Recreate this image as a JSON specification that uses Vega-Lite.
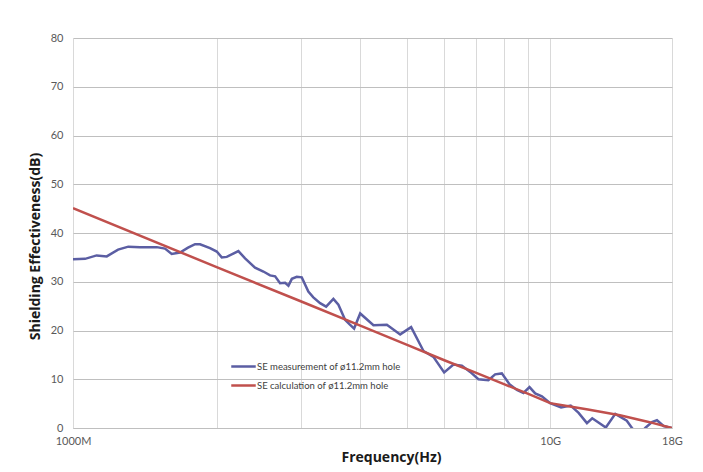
{
  "$schema": "https://vega.github.io/schema/vega-lite/v6.json",
  "width": 599,
  "height": 390,
  "autosize": {"type": "none"},
  "padding": {"left": 73, "top": 38, "right": 31, "bottom": 44},
  "background": "white",
  "config": {"view": {"stroke": null}, "font": "Lato"},
  "data": {
    "values": [
      {"f": 1.000, "se": 34.6, "series": "SE measurement of  ø11.2mm hole"},
      {"f": 1.060, "se": 34.7, "series": "SE measurement of  ø11.2mm hole"},
      {"f": 1.121, "se": 35.4, "series": "SE measurement of  ø11.2mm hole"},
      {"f": 1.177, "se": 35.2, "series": "SE measurement of  ø11.2mm hole"},
      {"f": 1.243, "se": 36.6, "series": "SE measurement of  ø11.2mm hole"},
      {"f": 1.306, "se": 37.2, "series": "SE measurement of  ø11.2mm hole"},
      {"f": 1.382, "se": 37.1, "series": "SE measurement of  ø11.2mm hole"},
      {"f": 1.498, "se": 37.1, "series": "SE measurement of  ø11.2mm hole"},
      {"f": 1.559, "se": 36.8, "series": "SE measurement of  ø11.2mm hole"},
      {"f": 1.610, "se": 35.7, "series": "SE measurement of  ø11.2mm hole"},
      {"f": 1.676, "se": 36.0, "series": "SE measurement of  ø11.2mm hole"},
      {"f": 1.742, "se": 37.0, "series": "SE measurement of  ø11.2mm hole"},
      {"f": 1.802, "se": 37.7, "series": "SE measurement of  ø11.2mm hole"},
      {"f": 1.846, "se": 37.7, "series": "SE measurement of  ø11.2mm hole"},
      {"f": 1.937, "se": 36.9, "series": "SE measurement of  ø11.2mm hole"},
      {"f": 2.001, "se": 36.2, "series": "SE measurement of  ø11.2mm hole"},
      {"f": 2.050, "se": 35.0, "series": "SE measurement of  ø11.2mm hole"},
      {"f": 2.100, "se": 35.1, "series": "SE measurement of  ø11.2mm hole"},
      {"f": 2.221, "se": 36.3, "series": "SE measurement of  ø11.2mm hole"},
      {"f": 2.294, "se": 34.8, "series": "SE measurement of  ø11.2mm hole"},
      {"f": 2.407, "se": 32.9, "series": "SE measurement of  ø11.2mm hole"},
      {"f": 2.506, "se": 32.1, "series": "SE measurement of  ø11.2mm hole"},
      {"f": 2.588, "se": 31.3, "series": "SE measurement of  ø11.2mm hole"},
      {"f": 2.652, "se": 31.1, "series": "SE measurement of  ø11.2mm hole"},
      {"f": 2.716, "se": 29.7, "series": "SE measurement of  ø11.2mm hole"},
      {"f": 2.783, "se": 29.8, "series": "SE measurement of  ø11.2mm hole"},
      {"f": 2.828, "se": 29.2, "series": "SE measurement of  ø11.2mm hole"},
      {"f": 2.875, "se": 30.6, "series": "SE measurement of  ø11.2mm hole"},
      {"f": 2.944, "se": 31.0, "series": "SE measurement of  ø11.2mm hole"},
      {"f": 3.016, "se": 30.9, "series": "SE measurement of  ø11.2mm hole"},
      {"f": 3.113, "se": 28.0, "series": "SE measurement of  ø11.2mm hole"},
      {"f": 3.189, "se": 26.8, "series": "SE measurement of  ø11.2mm hole"},
      {"f": 3.295, "se": 25.6, "series": "SE measurement of  ø11.2mm hole"},
      {"f": 3.392, "se": 24.9, "series": "SE measurement of  ø11.2mm hole"},
      {"f": 3.513, "se": 26.5, "series": "SE measurement of  ø11.2mm hole"},
      {"f": 3.599, "se": 25.3, "series": "SE measurement of  ø11.2mm hole"},
      {"f": 3.717, "se": 22.2, "series": "SE measurement of  ø11.2mm hole"},
      {"f": 3.795, "se": 21.3, "series": "SE measurement of  ø11.2mm hole"},
      {"f": 3.882, "se": 20.4, "series": "SE measurement of  ø11.2mm hole"},
      {"f": 3.998, "se": 23.5, "series": "SE measurement of  ø11.2mm hole"},
      {"f": 4.262, "se": 21.1, "series": "SE measurement of  ø11.2mm hole"},
      {"f": 4.547, "se": 21.2, "series": "SE measurement of  ø11.2mm hole"},
      {"f": 4.849, "se": 19.2, "series": "SE measurement of  ø11.2mm hole"},
      {"f": 5.112, "se": 20.7, "series": "SE measurement of  ø11.2mm hole"},
      {"f": 5.426, "se": 15.8, "series": "SE measurement of  ø11.2mm hole"},
      {"f": 5.692, "se": 14.6, "series": "SE measurement of  ø11.2mm hole"},
      {"f": 5.995, "se": 11.4, "series": "SE measurement of  ø11.2mm hole"},
      {"f": 6.270, "se": 13.0, "series": "SE measurement of  ø11.2mm hole"},
      {"f": 6.530, "se": 12.8, "series": "SE measurement of  ø11.2mm hole"},
      {"f": 6.797, "se": 11.5, "series": "SE measurement of  ø11.2mm hole"},
      {"f": 7.073, "se": 10.0, "series": "SE measurement of  ø11.2mm hole"},
      {"f": 7.422, "se": 9.8, "series": "SE measurement of  ø11.2mm hole"},
      {"f": 7.667, "se": 11.0, "series": "SE measurement of  ø11.2mm hole"},
      {"f": 7.919, "se": 11.2, "series": "SE measurement of  ø11.2mm hole"},
      {"f": 8.215, "se": 9.0, "series": "SE measurement of  ø11.2mm hole"},
      {"f": 8.517, "se": 7.8, "series": "SE measurement of  ø11.2mm hole"},
      {"f": 8.790, "se": 7.2, "series": "SE measurement of  ø11.2mm hole"},
      {"f": 9.050, "se": 8.4, "series": "SE measurement of  ø11.2mm hole"},
      {"f": 9.302, "se": 7.1, "series": "SE measurement of  ø11.2mm hole"},
      {"f": 9.607, "se": 6.5, "series": "SE measurement of  ø11.2mm hole"},
      {"f": 10.0, "se": 5.1, "series": "SE measurement of  ø11.2mm hole"},
      {"f": 10.54, "se": 4.2, "series": "SE measurement of  ø11.2mm hole"},
      {"f": 11.04, "se": 4.6, "series": "SE measurement of  ø11.2mm hole"},
      {"f": 11.47, "se": 3.1, "series": "SE measurement of  ø11.2mm hole"},
      {"f": 11.94, "se": 1.0, "series": "SE measurement of  ø11.2mm hole"},
      {"f": 12.25, "se": 2.0, "series": "SE measurement of  ø11.2mm hole"},
      {"f": 13.08, "se": 0.1, "series": "SE measurement of  ø11.2mm hole"},
      {"f": 13.69, "se": 2.9, "series": "SE measurement of  ø11.2mm hole"},
      {"f": 14.47, "se": 1.5, "series": "SE measurement of  ø11.2mm hole"},
      {"f": 14.84, "se": 0.0, "series": "SE measurement of  ø11.2mm hole"},
      {"f": 15.30, "se": -1.5, "series": "SE measurement of  ø11.2mm hole"},
      {"f": 15.82, "se": 0.0, "series": "SE measurement of  ø11.2mm hole"},
      {"f": 16.34, "se": 1.2, "series": "SE measurement of  ø11.2mm hole"},
      {"f": 16.74, "se": 1.6, "series": "SE measurement of  ø11.2mm hole"},
      {"f": 17.28, "se": 0.4, "series": "SE measurement of  ø11.2mm hole"},
      {"f": 18.0, "se": 0.0, "series": "SE measurement of  ø11.2mm hole"},
      {"f": 1, "se": 45.1, "series": "SE calculation of  ø11.2mm hole"},
      {"f": 2, "se": 33.0, "series": "SE calculation of  ø11.2mm hole"},
      {"f": 3, "se": 26.0, "series": "SE calculation of  ø11.2mm hole"},
      {"f": 4, "se": 21.0, "series": "SE calculation of  ø11.2mm hole"},
      {"f": 5, "se": 17.1, "series": "SE calculation of  ø11.2mm hole"},
      {"f": 6, "se": 13.9, "series": "SE calculation of  ø11.2mm hole"},
      {"f": 7, "se": 11.3, "series": "SE calculation of  ø11.2mm hole"},
      {"f": 8, "se": 9.0, "series": "SE calculation of  ø11.2mm hole"},
      {"f": 9, "se": 7.0, "series": "SE calculation of  ø11.2mm hole"},
      {"f": 10, "se": 5.1, "series": "SE calculation of  ø11.2mm hole"},
      {"f": 11, "se": 4.4, "series": "SE calculation of  ø11.2mm hole"},
      {"f": 12, "se": 3.8, "series": "SE calculation of  ø11.2mm hole"},
      {"f": 14, "se": 2.6, "series": "SE calculation of  ø11.2mm hole"},
      {"f": 16, "se": 1.3, "series": "SE calculation of  ø11.2mm hole"},
      {"f": 18, "se": 0.0, "series": "SE calculation of  ø11.2mm hole"}
    ]
  },
  "mark": {"type": "line", "strokeWidth": 2.5, "clip": true},
  "encoding": {
    "x": {
      "field": "f",
      "type": "quantitative",
      "scale": {"type": "log", "domain": [1, 18], "nice": false},
      "axis": {
        "values": [1, 2, 3, 4, 5, 6, 7, 8, 9, 10, 18],
        "labelExpr": "datum.value == 1 ? '1000M' : datum.value == 10 ? '10G' : datum.value == 18 ? '18G' : ''",
        "labelFlush": false,
        "labelOverlap": false,
        "ticks": false,
        "domainColor": "#bfbfbf",
        "gridColor": "#d9d9d9",
        "labelColor": "#595959",
        "labelFontSize": 11,
        "labelPadding": 7,
        "title": "Frequency(Hz)",
        "titleFont": "Open Sans",
        "titleFontWeight": "bold",
        "titleFontSize": 14,
        "titleColor": "#1a1a1a",
        "titlePadding": 4,
        "titleX": 318
      }
    },
    "y": {
      "field": "se",
      "type": "quantitative",
      "scale": {"domain": [0, 80], "nice": false},
      "axis": {
        "values": [0, 10, 20, 30, 40, 50, 60, 70, 80],
        "domain": false,
        "ticks": false,
        "gridColor": "#bfbfbf",
        "labelColor": "#595959",
        "labelFontSize": 11,
        "labelPadding": 10,
        "title": "Shielding Effectiveness(dB)",
        "titleFont": "Open Sans",
        "titleFontWeight": "bold",
        "titleFontSize": 14,
        "titleColor": "#1a1a1a",
        "titlePadding": 8,
        "titleY": 208
      }
    },
    "color": {
      "field": "series",
      "type": "nominal",
      "scale": {
        "domain": ["SE measurement of  ø11.2mm hole", "SE calculation of  ø11.2mm hole"],
        "range": ["#5b5ea3", "#c0504d"]
      },
      "legend": {
        "orient": "none",
        "legendX": 157,
        "legendY": 315,
        "title": null,
        "padding": 0,
        "symbolType": "stroke",
        "symbolSize": 600,
        "symbolStrokeWidth": 2.5,
        "labelFontSize": 9.5,
        "labelColor": "#404040",
        "labelOffset": 0,
        "rowPadding": -2
      }
    }
  }
}
